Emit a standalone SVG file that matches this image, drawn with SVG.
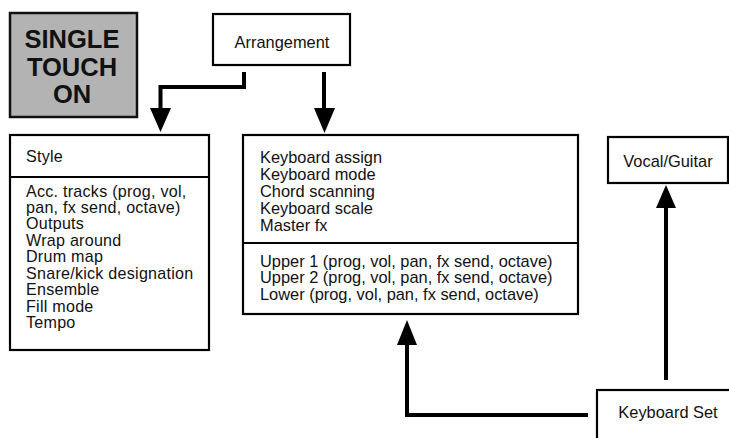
<svg xmlns="http://www.w3.org/2000/svg" width="729" height="438" viewBox="0 0 729 438">
<style>
.box{fill:#fff;stroke:#000;stroke-width:2.2}
.t{font-family:"Liberation Sans",Arial,sans-serif;font-size:16.4px;fill:#111}
.s{font-size:16.1px;letter-spacing:0.25px}
.big{font-family:"Liberation Sans",Arial,sans-serif;font-size:25.5px;font-weight:bold;fill:#111;text-anchor:middle}
.wire{fill:none;stroke:#000;stroke-width:4}
.head{fill:#000}
</style>
<rect width="729" height="438" fill="#fff"/>
<g id="single-touch">
<rect x="10" y="13" width="127" height="104" fill="#b3b3b3" stroke="#111" stroke-width="2.5"/>
<text class="big" x="72" y="48">SINGLE</text>
<text class="big" x="72" y="76">TOUCH</text>
<text class="big" x="72" y="103">ON</text>
</g>
<g id="arrangement">
<rect class="box" x="213" y="14" width="137" height="51"/>
<text class="t" x="282" y="48" text-anchor="middle">Arrangement</text>
</g>
<g id="style">
<rect class="box" x="10" y="135" width="199" height="215"/>
<line x1="10" y1="177" x2="209" y2="177" stroke="#000" stroke-width="2.2"/>
<text class="t s" x="26" y="162">Style</text>
<text class="t s" x="26" y="196.5">Acc. tracks (prog, vol,</text>
<text class="t s" x="26" y="212.95">pan, fx send, octave)</text>
<text class="t s" x="26" y="229.4">Outputs</text>
<text class="t s" x="26" y="245.85">Wrap around</text>
<text class="t s" x="26" y="262.3">Drum map</text>
<text class="t s" x="26" y="278.75">Snare/kick designation</text>
<text class="t s" x="26" y="295.2">Ensemble</text>
<text class="t s" x="26" y="311.65">Fill mode</text>
<text class="t s" x="26" y="328.1">Tempo</text>
</g>
<g id="keyboard">
<rect class="box" x="243" y="135" width="335" height="179"/>
<line x1="243" y1="243" x2="578" y2="243" stroke="#000" stroke-width="2.2"/>
<text class="t" x="260" y="163.3">Keyboard assign</text>
<text class="t" x="260" y="180.1">Keyboard mode</text>
<text class="t" x="260" y="196.9">Chord scanning</text>
<text class="t" x="260" y="213.7">Keyboard scale</text>
<text class="t" x="260" y="230.5">Master fx</text>
<text class="t" x="260" y="266.5">Upper 1 (prog, vol, pan, fx send, octave)</text>
<text class="t" x="260" y="283.3">Upper 2 (prog, vol, pan, fx send, octave)</text>
<text class="t" x="260" y="300.1">Lower (prog, vol, pan, fx send, octave)</text>
</g>
<g id="vocal-guitar">
<rect class="box" x="608" y="137" width="120" height="46"/>
<text class="t" x="668" y="167" text-anchor="middle">Vocal/Guitar</text>
</g>
<g id="keyboard-set">
<rect class="box" x="597" y="390" width="140" height="60"/>
<text class="t" x="668" y="417.5" text-anchor="middle">Keyboard Set</text>
</g>
<g id="connectors">
<path class="wire" d="M244 72 V87 H160.5 V110"/>
<polygon class="head" points="150,108 171,108 160.5,132"/>
<path class="wire" d="M324 72 V110"/>
<polygon class="head" points="314,108 335,108 324.5,133"/>
<path class="wire" d="M588 415 H407 V343"/>
<polygon class="head" points="397,345 417,345 407,320"/>
<path class="wire" d="M666 380 V206"/>
<polygon class="head" points="656,208 676,208 666,185"/>
</g>
</svg>
